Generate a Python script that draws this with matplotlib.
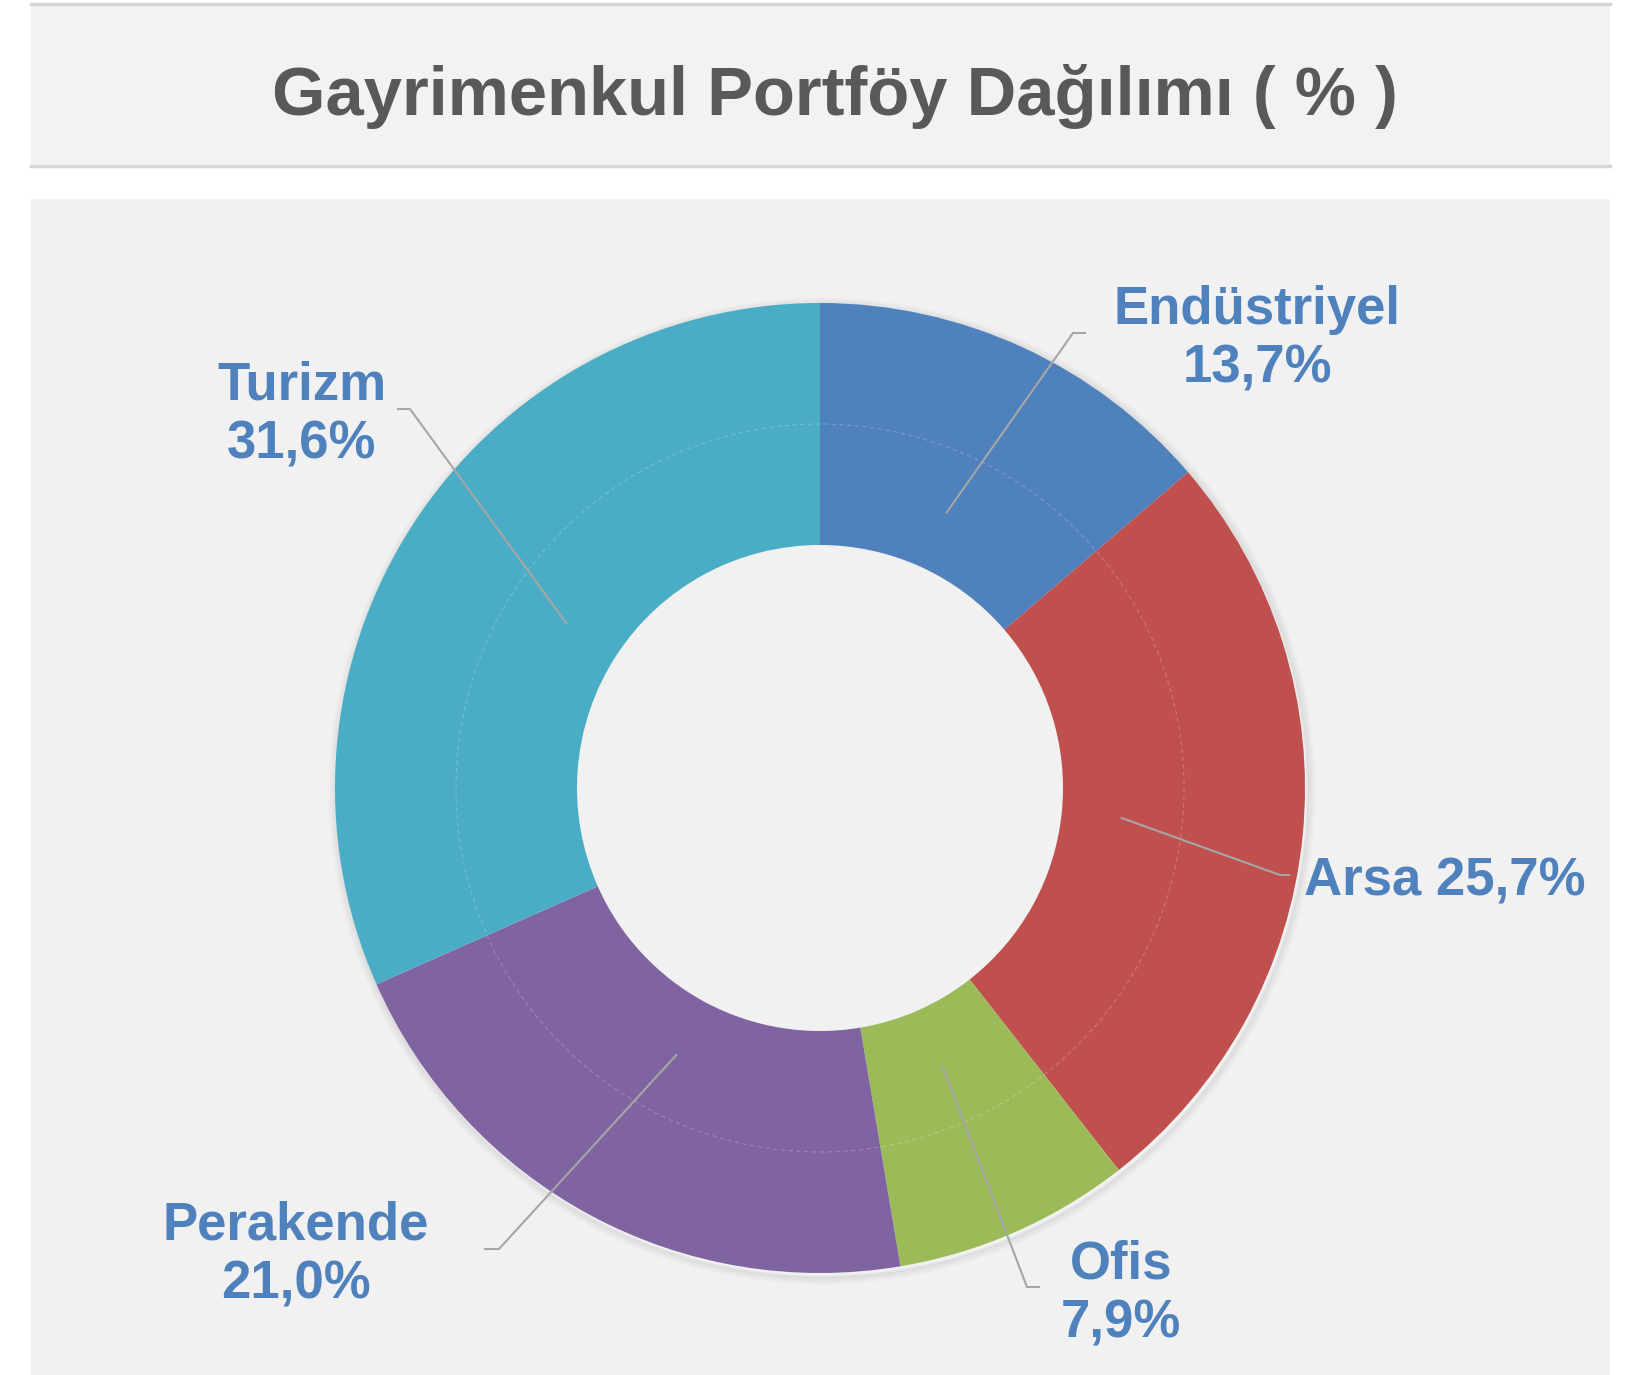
import numpy as np
import matplotlib
matplotlib.use("Agg")
import matplotlib.pyplot as plt
from matplotlib.patches import Rectangle, Circle

categories = ["Endüstriyel", "Arsa", "Ofis", "Perakende", "Turizm"]
values = [13.7, 25.7, 7.9, 21.0, 31.6]
colors = ["#4F81BD", "#C0504D", "#9BBB59", "#8064A2", "#4BACC6"]
title = "Gayrimenkul Portföy Dağılımı ( % )"

W, H = 1643, 1375
fig = plt.figure(figsize=(W / 100, H / 100), dpi=100)
fig.patch.set_facecolor("white")
ax = fig.add_axes([0, 0, 1, 1])
ax.set_xlim(0, W)
ax.set_ylim(0, H)
ax.axis("off")

def Y(y):  # image row -> data y
    return H - y

# panels
ax.add_patch(Rectangle((31, Y(166)), 1579, 162, facecolor="#F2F2F2", edgecolor="none", zorder=0))
ax.plot([31, 1610], [Y(4), Y(4)], color="#D6D6D6", lw=2.5, zorder=1)
ax.plot([31, 1610], [Y(166), Y(166)], color="#D6D6D6", lw=2.5, zorder=1)
ax.add_patch(Rectangle((31, 0), 1579, Y(199), facecolor="#F1F1F1", edgecolor="none", zorder=0))

ax.text(835, Y(115), title, ha="center", va="baseline", fontsize=49.5,
        fontweight="bold", color="#595959", family=["Liberation Sans", "DejaVu Sans"])

cx, cy, R = 820, Y(788), 485
inner = 243

# soft shadow around the ring
for i, a in enumerate([0.05, 0.04, 0.03, 0.02, 0.012]):
    ax.add_patch(Circle((cx + 2, cy - 3), R + 1 + i * 1.6, facecolor="none",
                        edgecolor=(0, 0, 0, a), lw=2.0, zorder=1))

wedges, _ = ax.pie(values, colors=colors, startangle=90, counterclock=False,
                   center=(cx, cy), radius=R,
                   wedgeprops=dict(width=R - inner, edgecolor="none", linewidth=0),
                   frame=True)
for w in wedges:
    w.set_zorder(2)
ax.set_xlim(0, W)
ax.set_ylim(0, H)
ax.set_aspect("auto")
ax.axis("off")

# faint dashed middle ring
ax.add_patch(Circle((cx, cy), 364, facecolor="none", edgecolor=(1, 1, 1, 0.22),
                    lw=0.8, ls=(0, (4, 3)), zorder=3))

# labels with leader lines
elbows = [(1073, 333), (1280, 875), (1027, 1287), (499, 1249), (410, 409)]
ends = [(1085, 333), (1289, 875), (1039, 1287), (485, 1249), (398, 409)]
label_pos = [(1257, 339, "center"), (1304, 882, "left"), (1121, 1294, "center"),
             (296, 1255, "center"), (302, 415, "center")]
r_lead = 0.625 * R
cum = np.cumsum([0] + values[:-1])
total = sum(values)
lc = "#A6A6A6"
for i, (cat, v) in enumerate(zip(categories, values)):
    ang = np.deg2rad(90 - (cum[i] + v / 2) / total * 360)
    sx, sy = cx + r_lead * np.cos(ang), cy + r_lead * np.sin(ang)
    ex, ey = elbows[i]
    fx, fy = ends[i]
    ax.plot([sx, ex, fx], [sy, Y(ey), Y(fy)], color=lc, lw=1.5, zorder=4,
            solid_joinstyle="miter")
    pct = f"{v:.1f}".replace(".", ",") + "%"
    lx, ly, ha = label_pos[i]
    if cat == "Arsa":
        txt = f"{cat} {pct}"
    else:
        txt = f"{cat}\n{pct}"
    ax.text(lx, Y(ly), txt, ha=ha, va="center", fontsize=38, fontweight="bold",
            color="#4F81BD", linespacing=1.21, family=["Liberation Sans", "DejaVu Sans"],
            zorder=5)

fig.savefig("out.png", dpi=100, facecolor=fig.get_facecolor())
